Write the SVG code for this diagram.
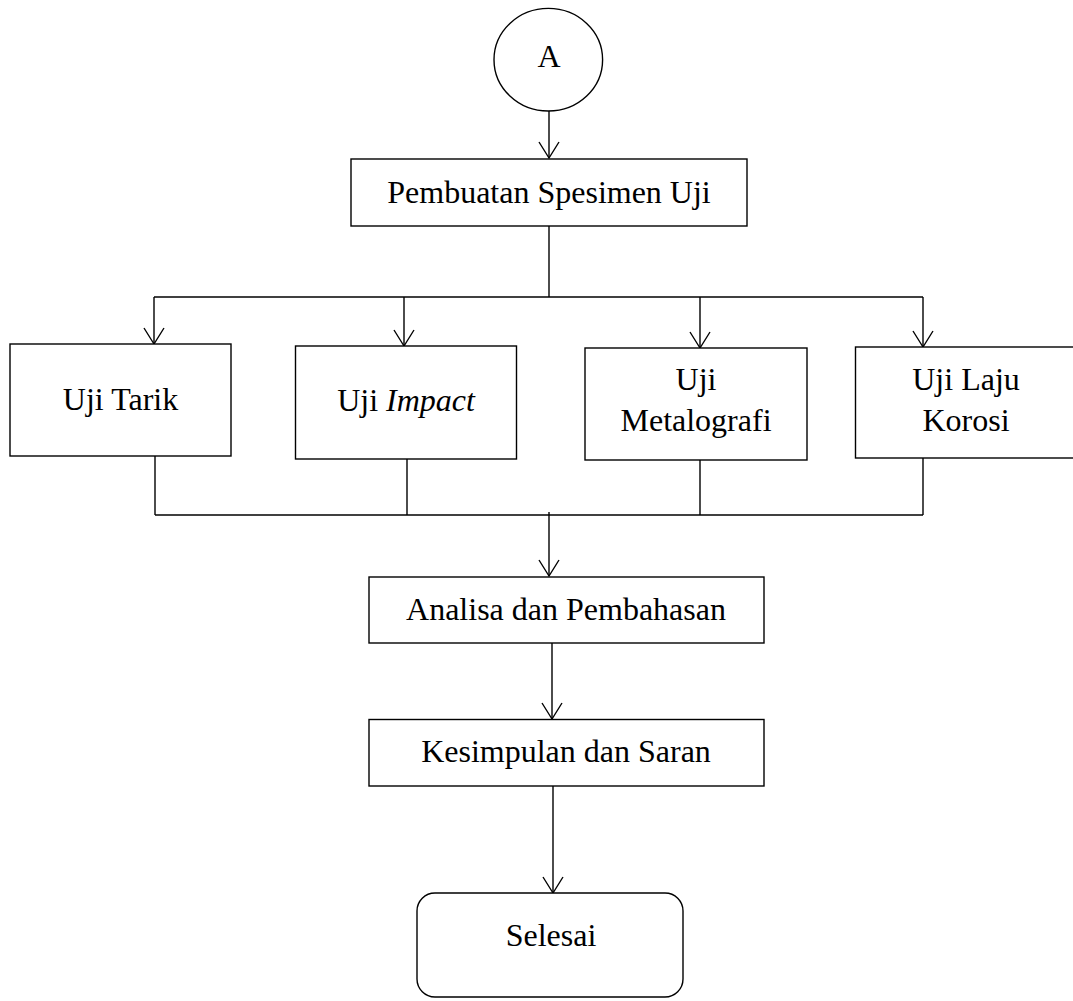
<svg xmlns="http://www.w3.org/2000/svg" width="1073" height="1001" viewBox="0 0 1073 1001">
  <style>
    .box { fill: #fff; stroke: #000; stroke-width: 1.4; }
    .wire { fill: none; stroke: #000; stroke-width: 1.4; }
    .lbl { font-family: "Liberation Serif", "Times New Roman", serif; font-size: 32px; fill: #000; text-anchor: middle; }
  </style>
  <defs>
    <marker id="open-arrow" viewBox="-18 -12 20 24" refX="0" refY="0" markerWidth="20" markerHeight="24" markerUnits="userSpaceOnUse" orient="auto" overflow="visible">
      <path d="M-16,-10 L0,0 L-16,10" fill="none" stroke="#000" stroke-width="1.4"/>
    </marker>
  </defs>

  <rect width="1073" height="1001" fill="#fff"/>

  <g id="connectors">
    <!-- connector A -> specimen preparation -->
    <line class="wire" x1="549" y1="111" x2="549" y2="158" marker-end="url(#open-arrow)"/>
    <!-- fan-out to the four tests -->
    <line class="wire" x1="549" y1="226" x2="549" y2="297"/>
    <line class="wire" x1="154" y1="297" x2="923" y2="297"/>
    <line class="wire" x1="154" y1="297" x2="154" y2="344" marker-end="url(#open-arrow)"/>
    <line class="wire" x1="404" y1="297" x2="404" y2="346" marker-end="url(#open-arrow)"/>
    <line class="wire" x1="700" y1="297" x2="700" y2="348" marker-end="url(#open-arrow)"/>
    <line class="wire" x1="923" y1="297" x2="923" y2="347" marker-end="url(#open-arrow)"/>
    <!-- fan-in from the tests -->
    <line class="wire" x1="155" y1="456" x2="155" y2="515"/>
    <line class="wire" x1="407" y1="459" x2="407" y2="515"/>
    <line class="wire" x1="700" y1="460" x2="700" y2="515"/>
    <line class="wire" x1="923" y1="458" x2="923" y2="515"/>
    <line class="wire" x1="155" y1="515" x2="923" y2="515"/>
    <line class="wire" x1="549" y1="512" x2="549" y2="576" marker-end="url(#open-arrow)"/>
    <!-- analysis -> conclusion -> finish -->
    <line class="wire" x1="552" y1="643" x2="552" y2="719" marker-end="url(#open-arrow)"/>
    <line class="wire" x1="553" y1="786" x2="553" y2="893" marker-end="url(#open-arrow)"/>
  </g>

  <g id="node-a">
    <ellipse class="box" cx="548.3" cy="59.7" rx="54.3" ry="51.3"/>
    <text class="lbl" x="549" y="67">A</text>
  </g>

  <g id="node-pembuatan">
    <rect class="box" x="351" y="159" width="396" height="67"/>
    <text class="lbl" x="549" y="203">Pembuatan Spesimen Uji</text>
  </g>

  <g id="node-tarik">
    <rect class="box" x="10" y="344" width="221" height="112"/>
    <text class="lbl" x="120.5" y="410">Uji Tarik</text>
  </g>

  <g id="node-impact">
    <rect class="box" x="295.5" y="346" width="221" height="113"/>
    <text class="lbl" x="406" y="411">Uji <tspan font-style="italic">Impact</tspan></text>
  </g>

  <g id="node-metalografi">
    <rect class="box" x="585" y="348" width="222" height="112"/>
    <text class="lbl" x="696" y="390">Uji</text>
    <text class="lbl" x="696" y="431">Metalografi</text>
  </g>

  <g id="node-korosi">
    <rect class="box" x="855.5" y="347" width="221" height="111"/>
    <text class="lbl" x="966" y="390">Uji Laju</text>
    <text class="lbl" x="966" y="431">Korosi</text>
  </g>

  <g id="node-analisa">
    <rect class="box" x="369" y="577" width="395" height="66"/>
    <text class="lbl" x="566" y="620">Analisa dan Pembahasan</text>
  </g>

  <g id="node-kesimpulan">
    <rect class="box" x="369" y="719.5" width="395" height="66.5"/>
    <text class="lbl" x="566" y="762">Kesimpulan dan Saran</text>
  </g>

  <g id="node-selesai">
    <rect class="box" x="417" y="893" width="266" height="104" rx="18" ry="18"/>
    <text class="lbl" x="551" y="946">Selesai</text>
  </g>
</svg>
